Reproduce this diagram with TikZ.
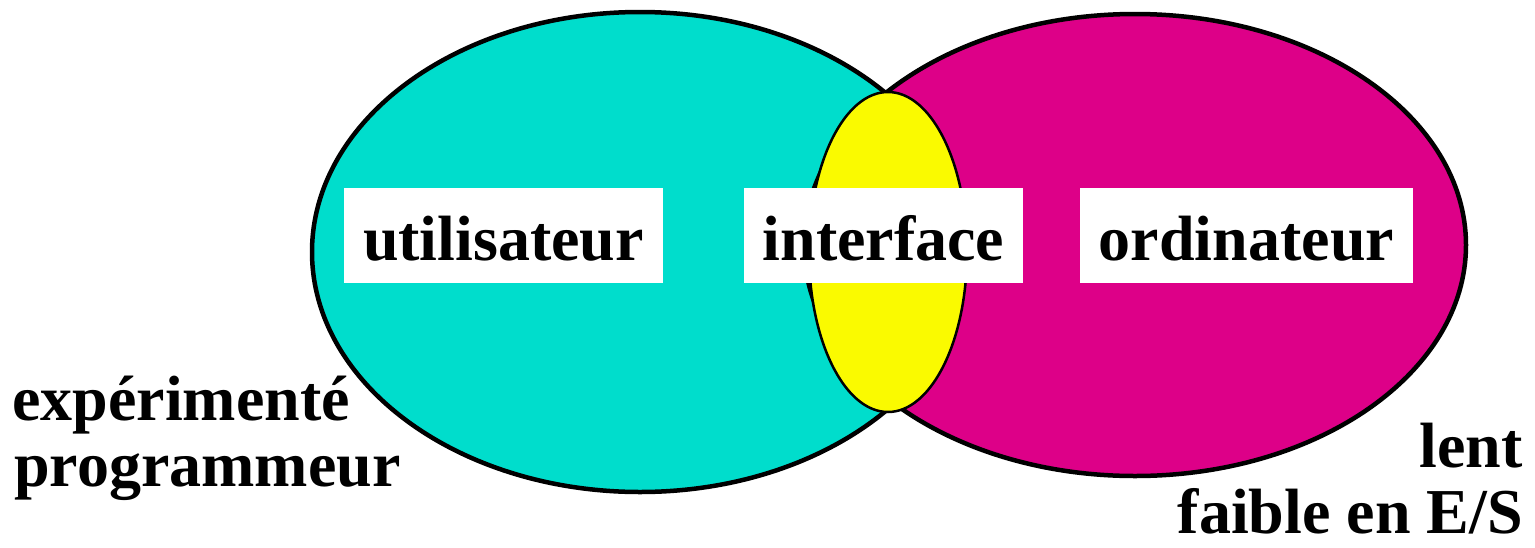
\documentclass[tikz,border=0pt]{standalone}
\usepackage{fontspec}
\setmainfont{Liberation Serif}
\definecolor{cyanfill}{RGB}{0,221,204}
\definecolor{magfill}{RGB}{221,0,136}
\definecolor{yelfill}{RGB}{250,250,0}
\begin{document}
\begin{tikzpicture}[x=1pt,y=-1pt,
  lbl/.style={fill=white,inner xsep=0pt,inner ysep=0pt,text height=72pt,text depth=23pt,
    font=\fontsize{64}{70}\selectfont\bfseries},
  side/.style={inner sep=0pt,font=\fontsize{64}{70}\selectfont\bfseries}]
\useasboundingbox (0,0) rectangle (1535,547);
\draw[line width=4.5pt,fill=cyanfill] (640,252) ellipse [x radius=328,y radius=240];
\draw[line width=4.5pt,fill=magfill] (1135,245) ellipse [x radius=331,y radius=231];
\draw[line width=2.5pt,fill=yelfill] (888,252) ellipse [x radius=79,y radius=160];
\node[lbl,minimum width=319pt] (u) at (503.5,235.5) {utilisateur};
\node[lbl,minimum width=279pt] (i) at (883.5,235.5) {interface};
\node[lbl,minimum width=333pt] (o) at (1246.5,235.5) {ordinateur};
\node[side,anchor=base west] (e) at (12,420) {expérimenté};
\node[side,anchor=base west] (p) at (14,486) {programmeur};
\node[side,anchor=base east] (l) at (1523,467) {lent};
\node[side,anchor=base east] (f) at (1523,533) {faible en E/S};
\end{tikzpicture}
\end{document}
